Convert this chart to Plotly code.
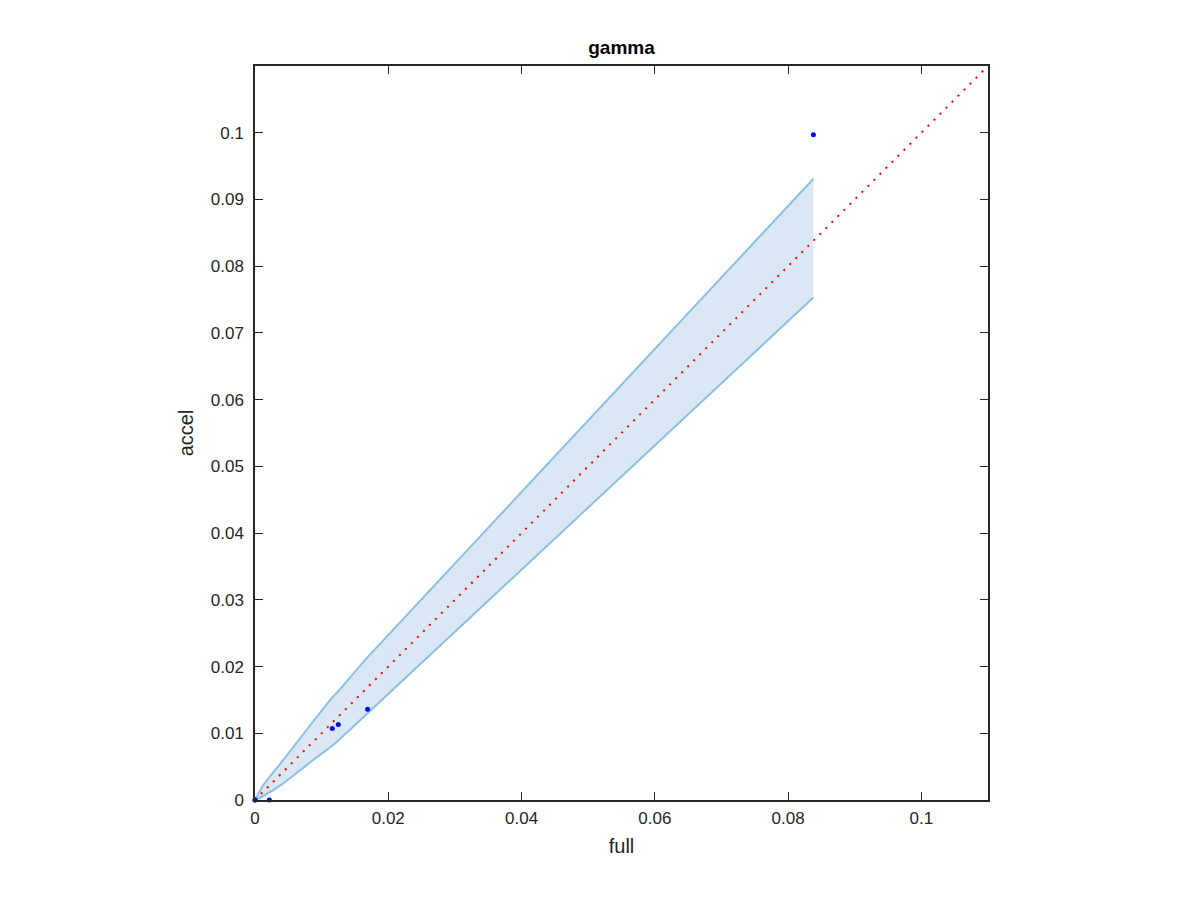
import plotly.graph_objects as go

# Data
band_x = [0, 0.00125, 0.00425, 0.00875, 0.0117, 0.0125, 0.0169, 0.0838]
band_upper = [0, 0.00225, 0.006, 0.0118, 0.0155, 0.0163, 0.0214, 0.0931]
band_lower = [0, 0.0006, 0.0025, 0.0060, 0.0082, 0.0089, 0.0130, 0.0753]

pts_full = [0, 0, 0.00215, 0.0116, 0.0125, 0.0169, 0.0838]
pts_accel = [0, 0, 0, 0.0107, 0.0113, 0.0136, 0.0997]

diag = [0, 0.11]

x_ticks = [0, 0.02, 0.04, 0.06, 0.08, 0.1]
x_labels = ["0", "0.02", "0.04", "0.06", "0.08", "0.1"]
y_ticks = [0, 0.01, 0.02, 0.03, 0.04, 0.05, 0.06, 0.07, 0.08, 0.09, 0.1]
y_labels = ["0", "0.01", "0.02", "0.03", "0.04", "0.05", "0.06", "0.07", "0.08", "0.09", "0.1"]

fill_color = "rgb(217,232,244)"
edge_color = "rgb(140,192,226)"
font_fam = "Liberation Sans, Arial, sans-serif"

fig = go.Figure()

# Band: lower edge, then upper edge filled to it
fig.add_trace(go.Scatter(x=band_x, y=band_lower, mode="lines",
                         line=dict(color=edge_color, width=2, shape="spline", smoothing=0.4),
                         showlegend=False))
fig.add_trace(go.Scatter(x=band_x, y=band_upper, mode="lines", fill="tonexty",
                         fillcolor=fill_color,
                         line=dict(color=edge_color, width=2, shape="spline", smoothing=0.4),
                         showlegend=False))
# Right vertical edge of the band is unstroked (fill only)

# Diagonal dotted red line
fig.add_trace(go.Scatter(x=diag, y=diag, mode="lines",
                         line=dict(color="rgb(255,0,0)", width=2, dash="2px,6.5px"),
                         showlegend=False))

# Points
fig.add_trace(go.Scatter(x=pts_full, y=pts_accel, mode="markers",
                         marker=dict(color="rgb(0,0,255)", size=5),
                         cliponaxis=False, showlegend=False))

axis_common = dict(
    showline=True, linecolor="rgb(38,38,38)", linewidth=1.5,
    mirror="allticks", ticks="inside", ticklen=8, tickwidth=1.2,
    tickcolor="rgb(38,38,38)", showgrid=False, zeroline=False,
    tickfont=dict(family=font_fam, size=17, color="rgb(38,38,38)"),
    title_font=dict(family=font_fam, size=20, color="rgb(38,38,38)"),
)

fig.update_xaxes(range=[0, 0.11], tickvals=x_ticks, ticktext=x_labels,
                 title_text="full", title_standoff=12, ticklabelstandoff=2, **axis_common)
fig.update_yaxes(range=[0, 0.11], tickvals=y_ticks, ticktext=y_labels,
                 title_text="accel", title_standoff=12, ticklabelstandoff=6, **axis_common)

fig.update_layout(
    width=1200, height=900,
    margin=dict(l=247, r=220, t=58, b=108, autoexpand=False),
    paper_bgcolor="white", plot_bgcolor="white",
    title=dict(text="<b>gamma</b>", x=(247 + 733 / 2) / 1200, xanchor="center",
               y=1 - 39 / 900, yanchor="middle",
               font=dict(family=font_fam, size=19, color="black")),
)

fig.write_html("out.html")
